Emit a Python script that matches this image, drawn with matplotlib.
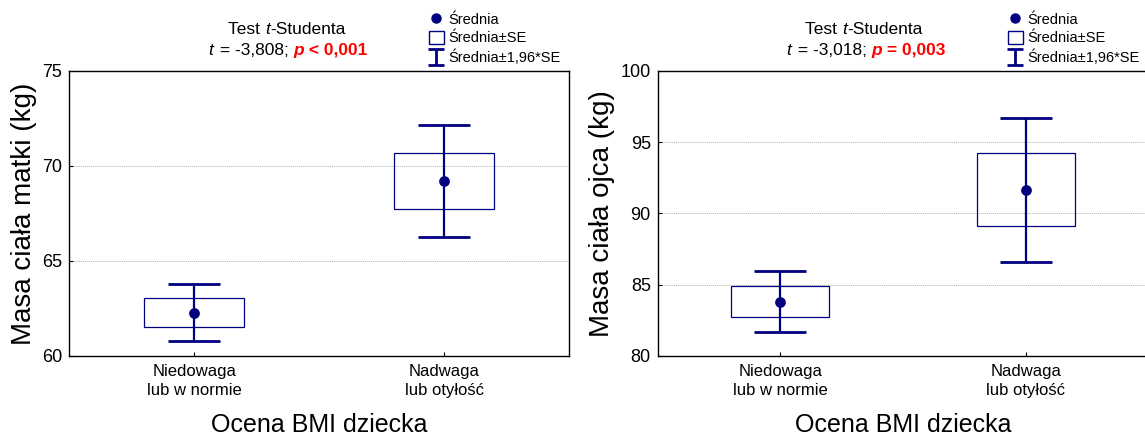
import matplotlib
matplotlib.use("Agg")
import matplotlib.pyplot as plt
import numpy as np
from matplotlib.lines import Line2D
from matplotlib.patches import Patch
from matplotlib.path import Path

plt.rcParams['font.family'] = ['Liberation Sans', 'DejaVu Sans']

kategorie = ['Niedowaga\nlub w normie', 'Nadwaga\nlub otyłość']

# masa matki
srednia_matka = [62.28, 69.20]
se_matka = [0.76, 1.49]
# masa ojca
srednia_ojciec = [83.82, 91.66]
se_ojciec = [1.10, 2.58]

t_matka, p_matka = '-3,808', 'p < 0,001'
t_ojciec, p_ojciec = '-3,018', 'p = 0,003'

GRANAT = '#000080'
W, H = 1145, 437

fig = plt.figure(figsize=(W / 100, H / 100), dpi=100)

# ksztalt "I" do legendy
ibeam = Path([(-1, 1), (1, 1), (0, 1), (0, -1), (-1, -1), (1, -1)],
             [Path.MOVETO, Path.LINETO, Path.MOVETO, Path.LINETO,
              Path.MOVETO, Path.LINETO])


def panel(rect, srednia, se, ylim, yticks, ylabel, t_txt, p_txt,
          tytul_x, linia2_x, leg_x):
    ax = fig.add_axes(rect)
    x = np.arange(len(kategorie))
    srednia = np.array(srednia)
    se = np.array(se)
    ax.bar(x, 2 * se, bottom=srednia - se, width=0.4, fill=False,
           edgecolor=GRANAT, linewidth=0.9, zorder=3)
    ax.errorbar(x, srednia, yerr=1.96 * se, fmt='o', color=GRANAT,
                ms=6.7, elinewidth=1.6, capsize=18.6, capthick=2.0, zorder=4)
    ax.set_xlim(-0.5, 1.5)
    ax.set_ylim(*ylim)
    ax.set_yticks(yticks)
    ax.set_xticks(x)
    ax.set_xticklabels(kategorie, fontsize=12, linespacing=1.3)
    ax.tick_params(axis='y', direction='in', length=3, labelsize=13, pad=5)
    ax.tick_params(axis='x', direction='in', length=3, pad=6)
    ax.yaxis.grid(True, linestyle=(0, (1, 1)), color='#b0b0b0', linewidth=0.7)
    ax.set_axisbelow(True)
    for s in ax.spines.values():
        s.set_linewidth(1.0)
    ax.set_ylabel(ylabel, fontsize=20, labelpad=4)
    ax.set_xlabel('Ocena BMI dziecka', fontsize=18, labelpad=11)

    # tytul testu
    b = ax.get_position()
    def fx(px):
        return (px / W - b.x0) / b.width
    def fy(py):
        return ((H - py) / H - b.y0) / b.height
    ax.text(fx(tytul_x), fy(29), 'Test ', fontsize=12.5, ha='right', va='center',
            transform=ax.transAxes)
    a0 = ax.text(fx(tytul_x), fy(29), 't', fontsize=12.5, style='italic',
                 ha='left', va='center', transform=ax.transAxes)
    ax.annotate('-Studenta', xy=(1, 0), xycoords=a0, va='bottom', fontsize=12.5)
    a1 = ax.text(fx(linia2_x), fy(50), 't', fontsize=12.5, style='italic',
                 ha='left', va='center', transform=ax.transAxes)
    a2 = ax.annotate(' = ' + t_txt + '; ', xy=(1, 0), xycoords=a1,
                     xytext=(1.2, 0), textcoords='offset points',
                     va='bottom', fontsize=12.5)
    a3 = ax.annotate(p_txt[0], xy=(1, 0), xycoords=a2, va='bottom', fontsize=12.5,
                     color='red', weight='bold', style='italic')
    ax.annotate(p_txt[1:], xy=(1, 0), xycoords=a3, va='bottom', fontsize=12.5,
                color='red', weight='bold')

    uchwyty = [
        Line2D([], [], marker='o', ls='none', color=GRANAT, ms=6.5),
        Patch(facecolor='white', edgecolor=GRANAT, linewidth=1.0),
        Line2D([], [], marker=ibeam, ls='none', color=GRANAT, ms=12,
               markeredgewidth=2.0),
    ]
    ax.legend(uchwyty, ['Średnia', 'Średnia±SE', 'Średnia±1,96*SE'],
              loc='upper left', bbox_to_anchor=(fx(leg_x), fy(12)),
              frameon=False, fontsize=10.5, handlelength=1.0, handleheight=1.0,
              handletextpad=0.3, labelspacing=0.3, borderpad=0, borderaxespad=0)
    return ax


panel([69.3 / W, 81 / H, 500 / W, 285.3 / H], srednia_matka, se_matka,
      (60, 75), [60, 65, 70, 75], 'Masa ciała matki (kg)', t_matka, p_matka,
      tytul_x=265, linia2_x=208.5, leg_x=429)
panel([657.7 / W, 81 / H, 490.6 / W, 285.3 / H], srednia_ojciec, se_ojciec,
      (80, 100), [80, 85, 90, 95, 100], 'Masa ciała ojca (kg)', t_ojciec, p_ojciec,
      tytul_x=842, linia2_x=786.5, leg_x=1008)

fig.savefig('out.png', dpi=100)
